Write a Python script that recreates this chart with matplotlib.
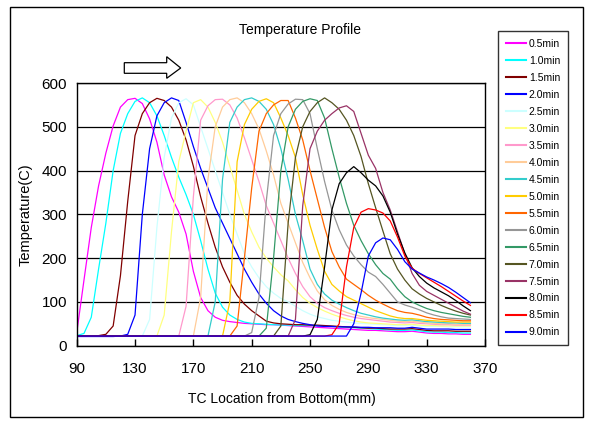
import matplotlib
matplotlib.use("Agg")
import matplotlib.pyplot as plt
from matplotlib.patches import Rectangle, Polygon

plt.rcParams['font.family'] = ['Liberation Sans', 'DejaVu Sans']

# TC positions along the heater (mm from bottom), 5 mm pitch
positions = list(range(90, 361, 5))

# Temperature (C) at each TC position, one profile per elapsed time
t05 = [29, 150, 270, 365, 440, 502, 545, 562, 565, 553,
       518, 465, 390, 340, 305, 255, 170, 110, 80, 65,
       58, 55, 53, 51, 50, 49, 48, 48, 47, 46,
       45, 44, 43, 42, 41, 40, 39, 38, 37, 36,
       35, 35, 34, 33, 32, 32, 33, 31, 29, 28,
       28, 27, 27, 26, 26]
t10 = [23, 28, 65, 175, 280, 400, 485, 530, 558, 566,
       555, 525, 480, 430, 385, 345, 300, 240, 175, 120,
       88, 70, 60, 54, 51, 50, 49, 48, 47, 47,
       46, 46, 46, 46, 45, 44, 43, 42, 41, 40,
       39, 38, 37, 36, 35, 35, 36, 34, 32, 31,
       31, 30, 30, 29, 29]
t15 = [22, 22, 22, 23, 26, 45, 160, 330, 480, 530,
       555, 565, 560, 545, 515, 470, 410, 340, 280, 225,
       180, 145, 115, 95, 80, 68, 56, 52, 50, 49,
       48, 48, 47, 47, 46, 45, 44, 43, 42, 41,
       40, 40, 39, 38, 38, 38, 39, 37, 35, 34,
       34, 34, 33, 33, 33]
t20 = [21, 21, 21, 21, 21, 21, 22, 26, 70, 300,
       450, 525, 555, 566, 560, 510, 455, 405, 360, 315,
       280, 245, 210, 175, 145, 118, 97, 80, 68, 60,
       55, 51, 48, 45, 44, 44, 43, 43, 43, 42,
       42, 41, 41, 41, 40, 40, 42, 40, 38, 38,
       38, 38, 37, 37, 37]
t25 = [22, 22, 22, 22, 22, 22, 22, 22, 22, 22,
       60, 270, 430, 520, 555, 564, 550, 500, 450, 400,
       350, 300, 255, 210, 180, 155, 135, 120, 108, 100,
       90, 80, 72, 66, 62, 58, 56, 54, 52, 51,
       50, 49, 48, 47, 46, 46, 47, 45, 44, 44,
       44, 43, 43, 43, 43]
t30 = [22, 22, 22, 22, 22, 22, 22, 22, 22, 22,
       22, 22, 70, 260, 420, 490, 555, 562, 545, 510,
       465, 410, 355, 300, 260, 225, 200, 180, 162, 148,
       128, 110, 97, 87, 79, 72, 66, 61, 57, 54,
       52, 51, 50, 49, 48, 48, 49, 47, 46, 46,
       45, 45, 45, 45, 45]
t35 = [22, 22, 22, 22, 22, 22, 22, 22, 22, 22,
       22, 22, 22, 22, 22, 90, 340, 515, 548, 562,
       563, 550, 520, 475, 425, 375, 320, 280, 240, 200,
       165, 135, 112, 97, 87, 80, 74, 69, 65, 62,
       60, 58, 56, 54, 53, 52, 53, 51, 50, 49,
       48, 48, 47, 47, 47]
t40 = [22, 22, 22, 22, 22, 22, 22, 22, 22, 22,
       22, 22, 22, 22, 22, 22, 22, 110, 380, 500,
       545, 562, 566, 555, 530, 495, 445, 390, 325, 280,
       235, 190, 155, 125, 105, 92, 83, 76, 71, 67,
       64, 62, 60, 58, 56, 55, 56, 54, 52, 51,
       50, 50, 49, 49, 49]
t45 = [22, 22, 22, 22, 22, 22, 22, 22, 22, 22,
       22, 22, 22, 22, 22, 22, 22, 22, 22, 100,
       380, 510, 545, 562, 566, 558, 540, 505, 450, 380,
       300, 240, 175, 140, 118, 104, 95, 87, 80, 74,
       70, 66, 63, 61, 59, 58, 59, 57, 55, 54,
       53, 52, 52, 51, 51]
t50 = [22, 22, 22, 22, 22, 22, 22, 22, 22, 22,
       22, 22, 22, 22, 22, 22, 22, 22, 22, 22,
       22, 100, 420, 505, 540, 558, 564, 555, 520, 480,
       430, 345, 275, 220, 170, 140, 125, 112, 104, 96,
       88, 80, 74, 68, 64, 62, 62, 60, 58, 57,
       56, 55, 54, 54, 54]
t55 = [22, 22, 22, 22, 22, 22, 22, 22, 22, 22,
       22, 22, 22, 22, 22, 22, 22, 22, 22, 22,
       22, 22, 45, 200, 360, 490, 530, 550, 560, 560,
       520, 470, 400, 335, 270, 215, 180, 152, 140, 128,
       115, 104, 95, 87, 80, 76, 74, 70, 65, 62,
       60, 59, 58, 57, 57]
t60 = [22, 22, 22, 22, 22, 22, 22, 22, 22, 22,
       22, 22, 22, 22, 22, 22, 22, 22, 22, 22,
       22, 22, 22, 22, 30, 110, 330, 480, 530, 552,
       563, 562, 530, 450, 375, 310, 265, 230, 205, 185,
       168, 158, 140, 120, 100, 93, 88, 82, 75, 70,
       66, 63, 62, 61, 60]
t65 = [22, 22, 22, 22, 22, 22, 22, 22, 22, 22,
       22, 22, 22, 22, 22, 22, 22, 22, 22, 22,
       22, 22, 22, 22, 22, 22, 40, 200, 400, 500,
       540, 558, 564, 560, 520, 450, 385, 325, 275, 240,
       210, 185, 165, 152, 130, 112, 100, 92, 85, 80,
       76, 73, 70, 67, 65]
t70 = [22, 22, 22, 22, 22, 22, 22, 22, 22, 22,
       22, 22, 22, 22, 22, 22, 22, 22, 22, 22,
       22, 22, 22, 22, 22, 22, 22, 22, 45, 280,
       430, 500, 535, 555, 566, 555, 540, 515, 480, 432,
       370, 315, 262, 210, 175, 150, 130, 118, 108, 100,
       92, 85, 79, 74, 70]
t75 = [22, 22, 22, 22, 22, 22, 22, 22, 22, 22,
       22, 22, 22, 22, 22, 22, 22, 22, 22, 22,
       22, 22, 22, 22, 22, 22, 22, 22, 22, 22,
       60, 320, 450, 490, 515, 530, 543, 548, 535, 485,
       435, 405, 350, 310, 260, 210, 165, 138, 124, 115,
       106, 97, 88, 79, 72]
t80 = [22, 22, 22, 22, 22, 22, 22, 22, 22, 22,
       22, 22, 22, 22, 22, 22, 22, 22, 22, 22,
       22, 22, 22, 22, 22, 22, 22, 22, 22, 22,
       22, 22, 25, 60, 180, 310, 370, 395, 409, 395,
       378, 365, 342, 305, 255, 212, 178, 158, 143, 132,
       123, 114, 103, 91, 80]
t85 = [22, 22, 22, 22, 22, 22, 22, 22, 22, 22,
       22, 22, 22, 22, 22, 22, 22, 22, 22, 22,
       22, 22, 22, 22, 22, 22, 22, 22, 22, 22,
       22, 22, 22, 22, 22, 25, 50, 180, 270, 305,
       313, 310, 303, 285, 248, 205, 177, 165, 155, 145,
       135, 124, 113, 102, 92]
t90 = [22, 22, 22, 22, 22, 22, 22, 22, 22, 22,
       22, 22, 22, 22, 22, 22, 22, 22, 22, 22,
       22, 22, 22, 22, 22, 22, 22, 22, 22, 22,
       22, 22, 22, 22, 22, 22, 22, 22, 50, 120,
       205, 235, 246, 242, 220, 192, 175, 166, 157, 150,
       142, 133, 122, 110, 98]

series_labels = ["0.5min", "1.0min", "1.5min", "2.0min", "2.5min", "3.0min",
                 "3.5min", "4.0min", "4.5min", "5.0min", "5.5min", "6.0min",
                 "6.5min", "7.0min", "7.5min", "8.0min", "8.5min", "9.0min"]
series_values = [t05, t10, t15, t20, t25, t30, t35, t40, t45, t50,
                 t55, t60, t65, t70, t75, t80, t85, t90]
series_colors = ["#FF00FF", "#00FFFF", "#800000", "#0000FF", "#CCFFFF", "#FFFF80",
                 "#FF99CC", "#FFCC99", "#33CCCC", "#FFCC00", "#FF6600", "#969696",
                 "#339966", "#555522", "#993366", "#000000", "#FF0000", "#0000FF"]

x_ticks = [90, 130, 170, 210, 250, 290, 330, 370]
y_ticks = [0, 100, 200, 300, 400, 500, 600]

W, H = 589, 421
fig = plt.figure(figsize=(W / 100, H / 100), dpi=100)


def fpos(px, py):
    return (px / W, 1 - py / H)


# outer chart border
fig.add_artist(Rectangle(fpos(10, 417), 573 / W, 410 / H, transform=fig.transFigure,
                         fill=False, edgecolor="black", linewidth=1.0))

ax = fig.add_axes([76.7 / W, 1 - 345.7 / H, (485 - 76.7) / W, (345.7 - 83) / H])

lines = []
for vals, lab, col in zip(series_values, series_labels, series_colors):
    ln, = ax.plot(positions, vals, color=col, linewidth=0.9, label=lab)
    lines.append(ln)

ax.set_xlim(90, 370)
ax.set_ylim(0, 600)
ax.set_xticks(x_ticks)
ax.set_yticks(y_ticks)
ax.yaxis.grid(True, color="black", linewidth=0.9)
ax.set_axisbelow(True)
ax.tick_params(axis="x", direction="in", length=5, width=1, pad=12, labelsize=11)
ax.tick_params(axis="y", length=0, pad=7, labelsize=11)
for sp in ax.spines.values():
    sp.set_color("black")
    sp.set_linewidth(1.0)

ax.set_xlabel("TC Location from Bottom(mm)", fontsize=10)
ax.set_ylabel("Temperature(C)", fontsize=10.5)
ax.xaxis.set_label_coords(0.5016, -0.176)
ax.yaxis.set_label_coords(-0.109, 0.4975)
fig.text(300 / W, 1 - 30 / H, "Temperature Profile", ha="center", va="center", fontsize=10)

# direction arrow above the plot
arrow_pts = [(124.3, 62.7), (166.7, 62.7), (166.7, 56.7), (180.7, 68.0),
             (166.7, 78.3), (166.7, 73.3), (124.3, 73.3)]
fig.add_artist(Polygon([fpos(*p) for p in arrow_pts], closed=True,
                       transform=fig.transFigure, facecolor="white",
                       edgecolor="black", linewidth=0.9))

leg = fig.legend(handles=lines, loc="upper left", bbox_to_anchor=fpos(498, 31),
                 fontsize=7.5, frameon=True, fancybox=False, borderpad=0.75,
                 labelspacing=0.67, handlelength=1.9, handletextpad=0.3,
                 borderaxespad=0)
leg.get_frame().set_edgecolor("black")
leg.get_frame().set_linewidth(1.0)
for h in leg.get_lines():
    h.set_linewidth(1.5)

fig.savefig("out.png", dpi=100)
